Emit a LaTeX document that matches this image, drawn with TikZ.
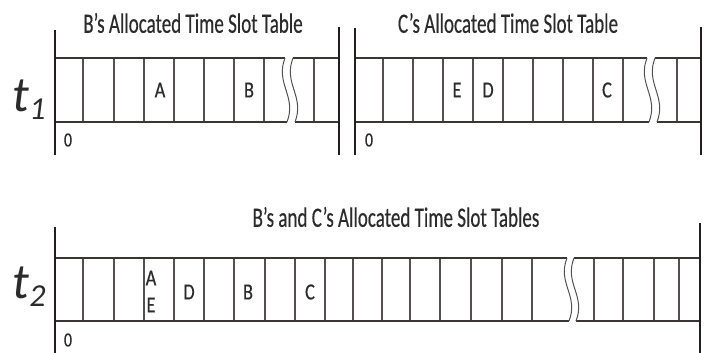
\documentclass[tikz,border=0pt]{standalone}
\usepackage{fontspec}
\setmainfont{Carlito}
\newfontfamily\medfont{Carlito}[FakeBold=0.5]
\definecolor{barc}{HTML}{231F20}
\definecolor{hlc}{HTML}{3C3633}
\definecolor{vlc}{HTML}{555050}
\definecolor{txc}{HTML}{2B2B2B}
\tikzset{
  bar/.style={barc,line width=2.4pt},
  hline/.style={hlc,line width=1.5pt},
  vline/.style={vlc,line width=1.1pt},
  wave/.style={vlc,line width=1pt},
  title/.style={text=txc,inner sep=0pt,font=\medfont\fontsize{28}{28}\selectfont},
  cell/.style={text=txc,inner sep=0pt,font=\medfont\fontsize{23}{23}\selectfont},
  zero/.style={text=txc,inner sep=0pt,font=\medfont\fontsize{20}{20}\selectfont},
  tlab/.style={text=txc,inner sep=0pt}
}
\newcommand{\wv}[3]{\draw[wave] (#1,#2) .. controls ({#1-10},{#2+0.4*(#3-#2)}) and ({#1+12},{#2+0.6*(#3-#2)}) .. ({#1+2},#3);}
\begin{document}
\begin{tikzpicture}[x=1pt,y=-1pt]
\useasboundingbox (0,0) rectangle (707,353);
% ---------- top left table ----------
\foreach \x in {83,114,144,174,204,234,264,314} \draw[vline] (\x,58) -- (\x,122);
\draw[hline] (55,58) -- (285,58) (293,58) -- (339,58);
\draw[hline] (55,122) -- (287,122) (295,122) -- (339,122);
\wv{285}{58}{122}
\wv{293}{58}{122}
\draw[bar] (55,30) -- (55,155);
\draw[bar] (339,27) -- (339,155);
% ---------- top right table ----------
\foreach \x in {383,413,443,473,503,533,563,593,623,677} \draw[vline] (\x,58) -- (\x,122);
\draw[hline] (355,58) -- (647,58) (655,58) -- (701,58);
\draw[hline] (355,122) -- (649,122) (657,122) -- (701,122);
\wv{647}{58}{122}
\wv{655}{58}{122}
\draw[bar] (355,28) -- (355,155);
\draw[bar] (701,27) -- (701,155);
% ---------- bottom table ----------
\foreach \x in {83,114,144,174,204,234,265,295,325,353,382,410,440,471,502,532,594,623,654,679} \draw[vline] (\x,258) -- (\x,321);
\draw[hline] (55,258) -- (567,258) (574,258) -- (700,258);
\draw[hline] (55,321) -- (569,321) (576,321) -- (700,321);
\wv{567}{258}{321}
\wv{574}{258}{321}
\draw[bar] (55,227) -- (55,353);
\draw[bar] (700,223) -- (700,353);
% ---------- texts ----------
\node[title] (tb) at (193,23) {\scalebox{0.68}[1]{B’s Allocated Time Slot Table}};
\node[title] (tc) at (508,23) {\scalebox{0.68}[1]{C’s Allocated Time Slot Table}};
\node[title] (tbc) at (396,217) {\scalebox{0.68}[1]{B’s and C’s Allocated Time Slot Tables}};
\node[tlab] (t1) at (29,100) {\itshape\fontsize{50}{50}\selectfont t\raisebox{-8pt}{\fontsize{32}{32}\selectfont 1}};
\node[tlab] (t2) at (29,287) {\itshape\fontsize{50}{50}\selectfont t\raisebox{-8pt}{\fontsize{32}{32}\selectfont 2}};
\node[cell] (a1) at (160,90) {\scalebox{0.8}[1]{A}};
\node[cell] (b1) at (249,90) {\scalebox{0.8}[1]{B}};
\node[cell] (e1) at (457,90) {\scalebox{0.8}[1]{E}};
\node[cell] (d1) at (488,90) {\scalebox{0.8}[1]{D}};
\node[cell] (c1) at (607,90) {\scalebox{0.8}[1]{C}};
\node[zero] (z1) at (68,140) {\scalebox{0.8}[1]{0}};
\node[zero] (z2) at (369,140) {\scalebox{0.8}[1]{0}};
\node[cell] (a2) at (151,278) {\scalebox{0.8}[1]{A}};
\node[cell] (e2) at (151,305) {\scalebox{0.8}[1]{E}};
\node[cell] (d2) at (189,292) {\scalebox{0.8}[1]{D}};
\node[cell] (b2) at (248,292) {\scalebox{0.8}[1]{B}};
\node[cell] (c2) at (310,292) {\scalebox{0.8}[1]{C}};
\node[zero] (z3) at (68,340) {\scalebox{0.8}[1]{0}};
\end{tikzpicture}
\end{document}
